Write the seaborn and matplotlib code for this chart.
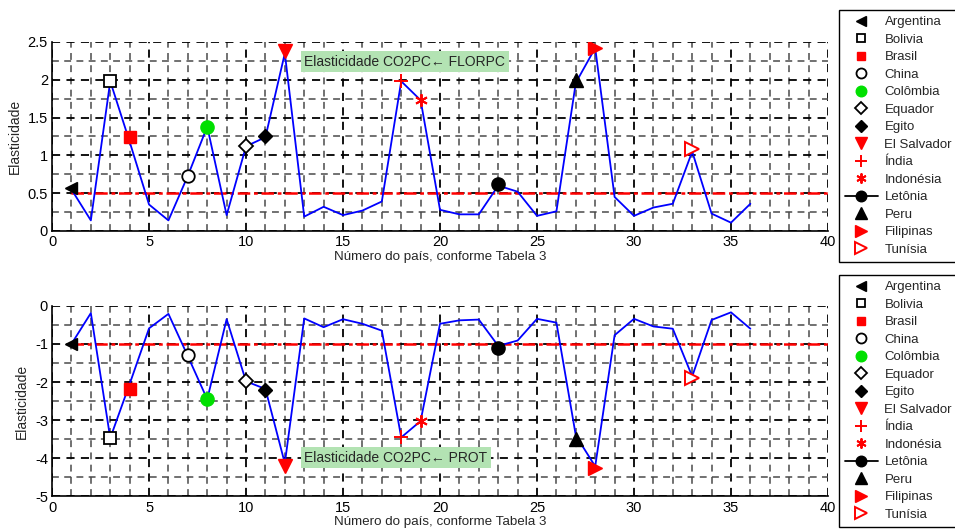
import numpy as np
import pandas as pd
import matplotlib
matplotlib.use("Agg")
import matplotlib.pyplot as plt
from matplotlib.lines import Line2D
from matplotlib.ticker import MultipleLocator, FuncFormatter
import seaborn as sns

# Country numbers (Tabela 3) and the two elasticity series
paises = list(range(1, 37))
elast_florpc = [0.55, 0.14, 1.98, 1.18, 0.35, 0.14, 0.73, 1.38, 0.21, 1.12,
                1.24, 2.35, 0.19, 0.32, 0.21, 0.27, 0.39, 1.98, 1.73, 0.28,
                0.22, 0.22, 0.60, 0.52, 0.20, 0.26, 1.96, 2.42, 0.45, 0.20,
                0.31, 0.36, 1.05, 0.23, 0.11, 0.36]
elast_prot = [-1.00, -0.19, -3.47, -2.05, -0.59, -0.21, -1.32, -2.45, -0.35, -1.98,
              -2.18, -4.13, -0.33, -0.56, -0.35, -0.47, -0.65, -3.45, -3.02, -0.47,
              -0.38, -0.36, -1.05, -0.91, -0.34, -0.44, -3.40, -4.21, -0.77, -0.34,
              -0.54, -0.60, -1.85, -0.37, -0.17, -0.60]

# Highlighted countries
nomes = ["Argentina", "Bolivia", "Brasil", "China", "Colômbia", "Equador", "Egito",
         "El Salvador", "Índia", "Indonésia", "Letônia", "Peru", "Filipinas", "Tunísia"]
num_pais = [1, 3, 4, 7, 8, 10, 11, 12, 18, 19, 23, 27, 28, 33]
destaque_florpc = [0.57, 1.98, 1.24, 0.73, 1.38, 1.13, 1.25, 2.38, 1.98, 1.73,
                   0.62, 2.00, 2.42, 1.08]
destaque_prot = [-1.01, -3.47, -2.18, -1.28, -2.45, -1.97, -2.20, -4.20, -3.45, -3.02,
                 -1.10, -3.50, -4.24, -1.90]

# Reference levels
ref_florpc = 0.5
ref_prot = -1.0

RED = "#ff0000"
GREEN = "#00e000"
estilos = [
    dict(marker="<", mfc="black", mec="black", ms=9),
    dict(marker="s", mfc="white", mec="black", ms=8, mew=1.3),
    dict(marker="s", mfc=RED, mec=RED, ms=8),
    dict(marker="o", mfc="white", mec="black", ms=9, mew=1.3),
    dict(marker="o", mfc=GREEN, mec=GREEN, ms=9.5),
    dict(marker="D", mfc="white", mec="black", ms=7.5, mew=1.3),
    dict(marker="D", mfc="black", mec="black", ms=7.5),
    dict(marker="v", mfc=RED, mec=RED, ms=10),
    dict(marker="+", mfc=RED, mec=RED, ms=10, mew=1.4),
    dict(marker=(6, 2, 0), mfc=RED, mec=RED, ms=9, mew=1.4),
    dict(marker="o", mfc="black", mec="black", ms=9.5),
    dict(marker="^", mfc="black", mec="black", ms=10),
    dict(marker=">", mfc=RED, mec=RED, ms=10),
    dict(marker=">", mfc="white", mec=RED, ms=10, mew=1.4),
]

sns.set_theme(style="white")
plt.rcParams["font.family"] = ["Liberation Sans", "DejaVu Sans"]
plt.rcParams["axes.unicode_minus"] = False

fig = plt.figure(figsize=(9.55, 5.31), dpi=100)
ax_top = fig.add_axes([0.0545, 0.565, 0.8125, 0.356])
ax_bot = fig.add_axes([0.0545, 0.065, 0.8125, 0.359])

fmt = FuncFormatter(lambda v, pos: "%g" % v)


def painel(ax, serie, destaques, ref, ylim, ymaj, ymin, titulo, ytxt):
    df = pd.DataFrame({"pais": paises, "elasticidade": serie})
    ax.set_axisbelow(True)
    ax.xaxis.set_major_locator(MultipleLocator(5))
    ax.xaxis.set_minor_locator(MultipleLocator(1))
    ax.yaxis.set_major_locator(MultipleLocator(ymaj))
    ax.yaxis.set_minor_locator(MultipleLocator(ymin))
    ax.xaxis.set_major_formatter(fmt)
    ax.yaxis.set_major_formatter(fmt)
    ax.grid(True, which="major", color="black", linestyle=(0, (4.5, 3.5)), linewidth=1.3)
    ax.grid(True, which="minor", color="#4a4a4a", linestyle=(0, (4.5, 3.5)), linewidth=1.1)

    ref_df = pd.DataFrame({"pais": [1, 40], "elasticidade": [ref, ref]})
    sns.lineplot(data=ref_df, x="pais", y="elasticidade", ax=ax, color=RED,
                 linestyle=(0, (5, 1.5, 1.5, 1.5)), linewidth=1.8, zorder=3)
    sns.lineplot(data=df, x="pais", y="elasticidade", ax=ax, color="#0000ff",
                 linewidth=1.3, zorder=4)
    for x, y, st in zip(num_pais, destaques, estilos):
        ax.plot([x], [y], linestyle="none", zorder=5, **st)

    ax.set_xlim(0, 40)
    ax.set_ylim(*ylim)
    ax.set_xlabel("Número do país, conforme Tabela 3", fontsize=9.6, labelpad=1)
    ax.set_ylabel("Elasticidade", fontsize=10, labelpad=4)
    ax.tick_params(axis="both", which="major", labelsize=10.5, direction="in",
                   length=4, pad=3, colors="black")
    ax.tick_params(axis="both", which="minor", direction="in", length=0)
    for s in ["top", "right"]:
        ax.spines[s].set_visible(False)
    for s in ["left", "bottom"]:
        ax.spines[s].set_color("black")
        ax.spines[s].set_linewidth(1.2)

    ax.text(13.0, ytxt, titulo, fontsize=10, va="center", ha="left", zorder=6,
            family=["Liberation Sans", "DejaVu Sans"],
            bbox=dict(boxstyle="square,pad=0.25", facecolor="#b3e3b3", edgecolor="none"))


painel(ax_top, elast_florpc, destaque_florpc, ref_florpc, (0, 2.5), 0.5, 0.25,
       "Elasticidade CO2PC\u2190 FLORPC", 2.24)
painel(ax_bot, elast_prot, destaque_prot, ref_prot, (-5, 0), 1, 0.5,
       "Elasticidade CO2PC\u2190 PROT", -3.98)

# Legend handles shared by both panels
handles = []
for nome, st in zip(nomes, estilos):
    ls = "-" if nome == "Letônia" else "none"
    handles.append(Line2D([], [], color="black", linestyle=ls, linewidth=1.3, label=nome, **st))

for top in (0.981, 0.482):
    leg = fig.legend(handles=handles, loc="upper left", bbox_to_anchor=(0.8785, top),
                     bbox_transform=fig.transFigure, fontsize=9.5, frameon=True,
                     fancybox=False, framealpha=1, edgecolor="black", borderpad=0.45,
                     labelspacing=0.4, handlelength=2.5, handletextpad=0.5,
                     markerscale=0.8, borderaxespad=0)
    leg.get_frame().set_linewidth(1.0)

fig.savefig("out.png", dpi=100)
